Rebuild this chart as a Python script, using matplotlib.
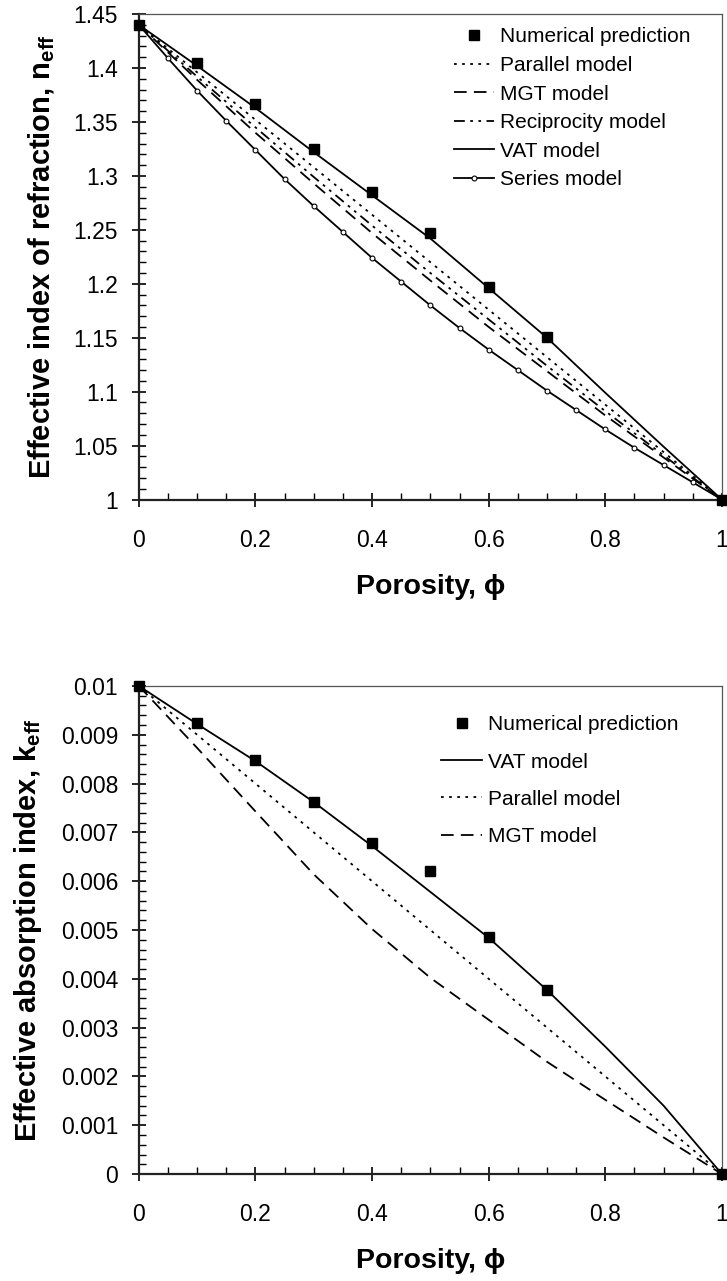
import numpy as np
import matplotlib
matplotlib.use('Agg')
from matplotlib import pyplot as plt
from matplotlib.ticker import MultipleLocator, FuncFormatter

plt.rcParams['font.family'] = ['Liberation Sans', 'DejaVu Sans']
plt.rcParams['mathtext.fontset'] = 'custom'
plt.rcParams['mathtext.rm'] = 'Liberation Sans'
plt.rcParams['mathtext.bf'] = 'Liberation Sans:bold'

# top chart: effective index of refraction
phi_num = [0, 0.1, 0.2, 0.3, 0.4, 0.5, 0.6, 0.7, 1.0]
n_num = [1.44, 1.405, 1.367, 1.325, 1.285, 1.247, 1.197, 1.151, 1.0]

phi_model = [0, 0.1, 0.2, 0.3, 0.4, 0.5, 0.6, 0.7, 0.8, 0.9, 1.0]
n_parallel = [1.44, 1.396, 1.352, 1.308, 1.264, 1.22, 1.176, 1.132, 1.088, 1.044, 1.0]
n_mgt = [1.44, 1.389, 1.340, 1.293, 1.247, 1.203, 1.160, 1.119, 1.078, 1.039, 1.0]
n_recip = [1.44, 1.392, 1.345, 1.299, 1.254, 1.210, 1.167, 1.124, 1.082, 1.041, 1.0]
n_vat = [1.44, 1.402, 1.363, 1.322, 1.282, 1.242, 1.196, 1.150, 1.099, 1.049, 1.0]

phi_series = [0, 0.05, 0.1, 0.15, 0.2, 0.25, 0.3, 0.35, 0.4, 0.45, 0.5,
              0.55, 0.6, 0.65, 0.7, 0.75, 0.8, 0.85, 0.9, 0.95, 1.0]
n_series = [1.44, 1.409, 1.379, 1.351, 1.324, 1.297, 1.272, 1.248, 1.224, 1.202, 1.180,
            1.159, 1.139, 1.120, 1.101, 1.083, 1.065, 1.048, 1.032, 1.016, 1.0]

# bottom chart: effective absorption index
k_num = [0.01, 0.00925, 0.00849, 0.00763, 0.00678, 0.0062, 0.00486, 0.00378, 0.0]
k_vat = [0.01, 0.00922, 0.00846, 0.00762, 0.00672, 0.00578, 0.00484, 0.00377, 0.00261, 0.0014, 0.0]
k_parallel = [0.01, 0.009, 0.008, 0.007, 0.006, 0.005, 0.004, 0.003, 0.002, 0.001, 0.0]
k_mgt = [0.01, 0.00873, 0.00743, 0.00614, 0.00502, 0.00402, 0.00316, 0.0023, 0.00152, 0.00075, 0.0]

fig = plt.figure(figsize=(7.27, 12.81), dpi=100)
ax1 = fig.add_axes([0.191, 0.610, 0.802, 0.379])
ax2 = fig.add_axes([0.191, 0.0835, 0.802, 0.381])

lw = 1.3
dot = (1.5, 3.0)
dash = (7, 4)
dashdotdot = (6, 3, 1.5, 3, 1.5, 3)

ax1.plot(phi_num, n_num, 's', color='black', ms=7, clip_on=False, zorder=5,
         label='Numerical prediction')
ax1.plot(phi_model, n_parallel, color='black', lw=lw, dashes=dot, label='Parallel model')
ax1.plot(phi_model, n_mgt, color='black', lw=lw, dashes=dash, label='MGT model')
ax1.plot(phi_model, n_recip, color='black', lw=lw, dashes=dashdotdot, label='Reciprocity model')
ax1.plot(phi_model, n_vat, color='black', lw=lw, label='VAT model')
ax1.plot(phi_series, n_series, '-o', color='black', lw=lw, ms=3.5, mfc='white',
         mew=0.8, label='Series model')

ax2.plot(phi_num, k_num, 's', color='black', ms=7, clip_on=False, zorder=5,
         label='Numerical prediction')
ax2.plot(phi_model, k_vat, color='black', lw=lw, label='VAT model')
ax2.plot(phi_model, k_parallel, color='black', lw=lw, dashes=dot, label='Parallel model')
ax2.plot(phi_model, k_mgt, color='black', lw=lw, dashes=dash, label='MGT model')

fmt = FuncFormatter(lambda v, p: '%g' % round(v, 6))

for ax in (ax1, ax2):
    ax.set_xlim(0, 1)
    ax.xaxis.set_major_locator(MultipleLocator(0.2))
    ax.xaxis.set_minor_locator(MultipleLocator(0.05))
    ax.xaxis.set_major_formatter(fmt)
    ax.yaxis.set_major_formatter(fmt)
    ax.tick_params(which='major', direction='inout', length=10, width=1.2,
                   labelsize=16.5, colors='black')
    ax.tick_params(which='minor', direction='in', length=5, width=1.0)
    ax.tick_params(axis='x', which='major', pad=16)
    ax.tick_params(axis='y', which='major', pad=10)
    for s in ('left', 'bottom'):
        ax.spines[s].set_linewidth(1.6)
        ax.spines[s].set_color('#222222')
    for s in ('top', 'right'):
        ax.spines[s].set_linewidth(0.9)
        ax.spines[s].set_color('#555555')
    ax.set_xlabel('Porosity, ϕ', fontsize=20.5, fontweight='bold', labelpad=16)

ax1.set_ylim(1, 1.45)
ax1.yaxis.set_major_locator(MultipleLocator(0.05))
ax1.yaxis.set_minor_locator(MultipleLocator(0.01))
ax1.set_ylabel(r'Effective index of refraction, n$_{\mathbf{eff}}$',
               fontsize=21, fontweight='bold', labelpad=12)

ax2.set_ylim(0, 0.01)
ax2.yaxis.set_major_locator(MultipleLocator(0.001))
ax2.yaxis.set_minor_locator(MultipleLocator(0.0002))
ax2.set_ylabel(r'Effective absorption index, k$_{\mathbf{eff}}$',
               fontsize=21, fontweight='bold', labelpad=12)

ax1.legend(loc='upper left', bbox_to_anchor=(0.522, 0.994), frameon=False,
           fontsize=15, handlelength=1.92, handletextpad=0.3, labelspacing=0.46,
           borderpad=0)
ax2.legend(loc='upper left', bbox_to_anchor=(0.50, 0.961), frameon=False,
           fontsize=15, handlelength=2.0, handletextpad=0.25, labelspacing=0.87,
           borderpad=0)

fig.savefig('out.png', dpi=100)
